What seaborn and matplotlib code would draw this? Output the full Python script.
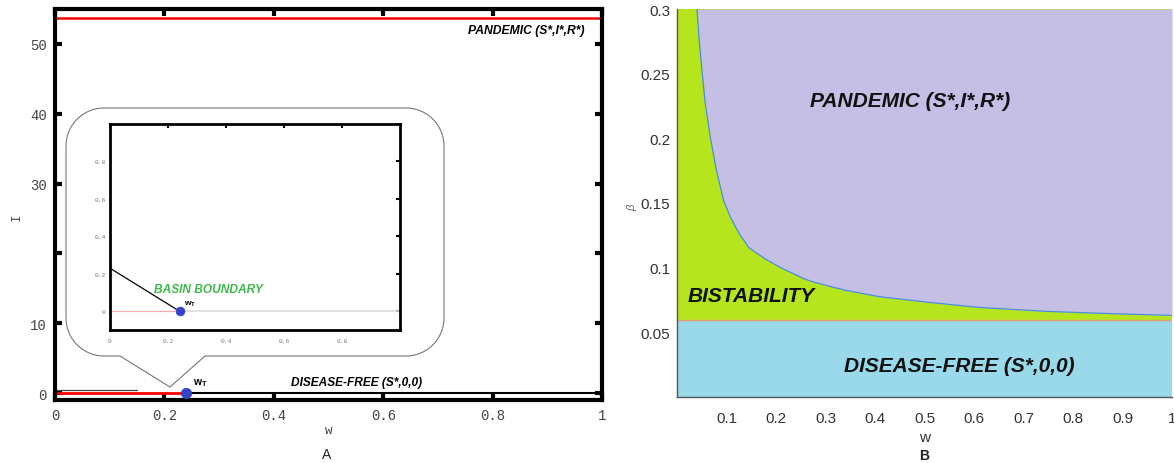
import numpy as np
import pandas as pd
import matplotlib
matplotlib.use("Agg")
import matplotlib.pyplot as plt
from matplotlib.path import Path
from matplotlib.patches import PathPatch
import seaborn as sns

# ---------------- data ----------------
# Panel A (bifurcation diagram I vs w)
w_T = 0.24
I_pandemic = 53.7
I_disease_free = 0.0
main_xticks = [0, 0.2, 0.4, 0.6, 0.8, 1]
main_xticklabels = ["0", "0.2", "0.4", "0.6", "0.8", "1"]
main_yticks = [0, 10, 20, 30, 40, 50]
main_yticklabels = ["0", "10", "", "30", "40", "50"]

# inset (basin boundary)
basin_w = [0.0, 0.24]
basin_I = [0.23, 0.0]
inset_xticks = [0, 0.2, 0.4, 0.6, 0.8]
inset_yticks = [0, 0.2, 0.4, 0.6, 0.8]
inset_ticklabels = ["0", "0.2", "0.4", "0.6", "0.8"]

# Panel B (regions in w-beta plane)
boundary_w = [0.0404, 0.045, 0.0505, 0.057, 0.0673, 0.0795, 0.094, 0.108, 0.1246,
              0.145, 0.178, 0.208, 0.256, 0.275, 0.317, 0.343, 0.410, 0.511, 0.612,
              0.747, 0.881, 1.0]
boundary_beta = [0.300, 0.275, 0.2525, 0.227, 0.201, 0.1756, 0.152, 0.139, 0.127,
                 0.1155, 0.1068, 0.1003, 0.0915, 0.0890, 0.0847, 0.0823, 0.0775, 0.0731,
                 0.0692, 0.0662, 0.0644, 0.0631]
beta_threshold = 0.0595
B_xticks = [0.1, 0.2, 0.3, 0.4, 0.5, 0.6, 0.7, 0.8, 0.9, 1]
B_xticklabels = ["0.1", "0.2", "0.3", "0.4", "0.5", "0.6", "0.7", "0.8", "0.9", "1"]
B_yticks = [0.05, 0.1, 0.15, 0.2, 0.25, 0.3]
B_yticklabels = ["0.05", "0.1", "0.15", "0.2", "0.25", "0.3"]

# ---------------- style ----------------
sns.set_theme(style="white")
plt.rcParams["font.family"] = ["Liberation Sans", "DejaVu Sans"]

W, H = 1174, 464
fig = plt.figure(figsize=(W / 100, H / 100), dpi=100)
fig.patch.set_facecolor("white")


def rect(l, t, r, b):
    return [l / W, 1 - b / H, (r - l) / W, (b - t) / H]


mono = ["Liberation Mono", "DejaVu Sans Mono"]

# ---------------- Panel A ----------------
axA = fig.add_axes(rect(55, 10, 602, 401))
axA.set_zorder(0)
axA.set_xlim(0, 1)
axA.set_ylim(-1, 55)
for s in axA.spines.values():
    s.set_linewidth(3)
    s.set_color("black")

line_df = pd.DataFrame({"w": [0, 1], "I": [I_pandemic, I_pandemic]})
sns.lineplot(data=line_df, x="w", y="I", ax=axA, color="#ff0000", lw=1.8)
sns.lineplot(x=[w_T, 1], y=[I_disease_free, I_disease_free], ax=axA, color="black", lw=1.5)
sns.lineplot(x=[0, w_T], y=[I_disease_free, I_disease_free], ax=axA, color="#ff0000", lw=2.0)
sns.lineplot(x=[0, 0.15], y=[0.45, 0.45], ax=axA, color="#444444", lw=0.9)
sns.scatterplot(x=[w_T], y=[I_disease_free], ax=axA, color="#3344cc", s=55,
                edgecolor="#3344cc", zorder=5)

axA.set_xticks(main_xticks)
axA.set_xticklabels(main_xticklabels, family=mono, fontsize=10, color="#444444")
axA.set_yticks(main_yticks)
axA.set_yticklabels(main_yticklabels, family=mono, fontsize=10, color="#444444")
axA.tick_params(axis="both", which="both", direction="in", length=5, width=3,
                top=True, right=True, bottom=True, left=True, pad=6, colors="black",
                labelcolor="#444444")
axA.set_xlabel("w", family=mono, fontsize=9, color="#444444", labelpad=1)
axA.set_ylabel("I", family=mono, fontsize=9, color="#444444")
axA.yaxis.set_label_coords(-0.058, 0.47)

axA.text(0.755, 52.0, "PANDEMIC (S*,I*,R*)", fontsize=8.7, fontweight="bold",
         style="italic", ha="left", va="center", color="black")
axA.text(0.432, 1.6, "DISEASE-FREE (S*,0,0)", fontsize=8.6, fontweight="bold",
         style="italic", ha="left", va="center", color="black")
axA.text(0.252, 1.6, "w$_{\\mathregular{T}}$", fontsize=7.5, fontweight="bold",
         ha="left", va="center", color="black")

fig.text(327 / W, 1 - 455 / H, "A", fontsize=10, ha="center", va="center", color="#222222")

# callout bubble (figure pixel coordinates)
L, R, T, Bt = 66, 444, 109, 357
rad = 38
tip = (170, 388)
pbL, pbR = 120, 205


def arc(cx, cy, r, a0, a1, n=24):
    a = np.linspace(np.radians(a0), np.radians(a1), n)
    return list(zip(cx + r * np.cos(a), cy + r * np.sin(a)))


pts = []
pts += [(pbR, Bt)]
pts += arc(R - rad, Bt - rad, rad, 90, 0)
pts += arc(R - rad, T + rad, rad, 0, -90)
pts += arc(L + rad, T + rad, rad, -90, -180)
pts += arc(L + rad, Bt - rad, rad, 180, 90)
pts += [(pbL, Bt), tip, (pbR, Bt)]
verts = [(x / W, 1 - y / H) for x, y in pts]
bubble = PathPatch(Path(verts), transform=fig.transFigure, facecolor="white",
                   edgecolor="#777777", lw=0.8, zorder=2)
fig.patches.append(bubble)

# inset
axI = fig.add_axes(rect(110, 125, 400, 331))
axI.set_zorder(5)
axI.set_xlim(0, 1)
axI.set_ylim(-0.1, 1.0)
for s in axI.spines.values():
    s.set_linewidth(2)
    s.set_color("black")
sns.lineplot(x=[0, w_T], y=[0, 0], ax=axI, color="#ffaaaa", lw=0.8)
sns.lineplot(x=[w_T, 1], y=[0, 0], ax=axI, color="#dddddd", lw=1.2)
sns.lineplot(x=basin_w, y=basin_I, ax=axI, color="black", lw=0.9)
sns.scatterplot(x=[w_T], y=[0], ax=axI, color="#3344cc", s=40, edgecolor="#3344cc", zorder=5)
axI.set_xticks(inset_xticks)
axI.set_xticklabels(inset_ticklabels, family=mono, fontsize=4.5, color="#777777")
axI.set_yticks(inset_yticks)
axI.set_yticklabels(inset_ticklabels, family=mono, fontsize=4.5, color="#777777")
axI.tick_params(axis="both", direction="in", length=3, width=1.5, top=True, right=True,
                pad=3, colors="black", labelcolor="#777777")
axI.tick_params(axis="x", pad=6)
axI.text(0.15, 0.12, "BASIN BOUNDARY", fontsize=8.6, fontweight="bold", style="italic",
         color="#3cb84a", ha="left", va="center")
axI.text(0.255, 0.045, "w$_{\\mathregular{T}}$", fontsize=6, fontweight="bold",
         ha="left", va="center", color="black")
axI.set_xlabel("")
axI.set_ylabel("")

# ---------------- Panel B ----------------
axB = fig.add_axes(rect(677, 10, 1172, 398))
axB.set_xlim(0, 1)
axB.set_ylim(0, 0.3)
bw = np.array(boundary_w)
bb = np.array(boundary_beta)

axB.axhspan(0, beta_threshold, color="#99d9ea", lw=0)
axB.axhspan(beta_threshold, 0.3, color="#b5e61d", lw=0)
axB.fill_between(bw, bb, 0.3, color="#c5bfe6", lw=0)
sns.lineplot(x=boundary_w, y=boundary_beta, ax=axB, color="#4a90d9", lw=0.9)
axB.axhline(beta_threshold, color="#e8a070", lw=1.0)

for k in ["left", "bottom"]:
    axB.spines[k].set_color("#555555")
    axB.spines[k].set_linewidth(1.0)
for k in ["top", "right"]:
    axB.spines[k].set_visible(False)
axB.set_xticks(B_xticks)
axB.set_xticklabels(B_xticklabels, fontsize=11, color="#333333")
axB.set_yticks(B_yticks)
axB.set_yticklabels(B_yticklabels, fontsize=11, color="#333333")
axB.tick_params(axis="both", direction="out", length=3, width=0.8, colors="#555555",
                labelcolor="#333333", pad=2)
axB.tick_params(axis="x", pad=7)
axB.set_xlabel("w", fontsize=11, color="#333333", labelpad=4)
axB.set_ylabel("β", fontsize=8, color="#666666", style="italic")
axB.yaxis.set_label_coords(-0.08, 0.49)

axB.text(0.268, 0.229, "PANDEMIC (S*,I*,R*)", fontsize=15, fontweight="bold",
         style="italic", ha="left", va="center", color="#111111")
axB.text(0.022, 0.0785, "BISTABILITY", fontsize=15, fontweight="bold",
         style="italic", ha="left", va="center", color="#111111")
axB.text(0.337, 0.0245, "DISEASE-FREE (S*,0,0)", fontsize=15, fontweight="bold",
         style="italic", ha="left", va="center", color="#111111")

fig.text(924 / W, 1 - 456 / H, "B", fontsize=10, fontweight="bold", ha="center",
         va="center", color="#222222")

fig.savefig("out.png", dpi=100, facecolor="white")
